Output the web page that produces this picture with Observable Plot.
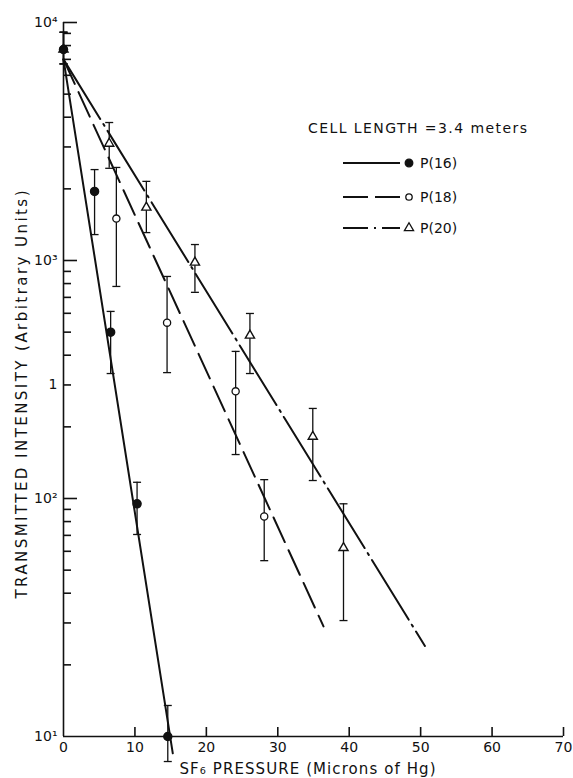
<!DOCTYPE html>
<html><head><meta charset="utf-8">
<script src="https://cdn.jsdelivr.net/npm/d3@7"></script>
<script src="https://cdn.jsdelivr.net/npm/@observablehq/plot@0.6"></script>
<style>body{margin:0;background:#fff} #chart{width:573px;height:778px}</style>
</head><body><div id="chart"></div>
<script>
// ---- data ----
const xTicks = [0, 10, 20, 30, 40, 50, 60, 70];
const yMajor = [100, 1000, 10000];
const yMinor = [20, 30, 40, 50, 60, 70, 80, 90,
                200, 300, 400, 500, 600, 700, 800, 900,
                2000, 3000, 4000, 5000, 6000, 7000, 8000, 9000];
const yTickValues = [10, 100, 1000, 10000, 300];
const yTickTexts  = ["10¹", "10²", "10³", "10⁴", "1"];

const p16_x  = [0, 4.35, 6.6, 10.3, 14.6];
const p16_y  = [7700, 1950, 500, 95, 10];
const p16_lo = [6700, 1285, 335, 70.6, 7.85];
const p16_hi = [9100, 2410, 611, 117, 13.5];

const p18_x  = [0, 7.4, 14.5, 24.1, 28.1];
const p18_y  = [7700, 1500, 548, 282, 84];
const p18_lo = [6700, 778, 338, 153, 54.8];
const p18_hi = [9100, 2460, 857, 415, 120];

const p20_x  = [0, 6.4, 11.6, 18.4, 26.1, 34.9, 39.2];
const p20_y  = [7700, 3100, 1670, 981, 484, 182, 62];
const p20_lo = [6700, 2440, 1310, 735, 335, 119, 30.7];
const p20_hi = [9100, 3800, 2150, 1167, 599, 239, 95];

// fitted lines (end points)
const fit16_x = [0, 15.3],  fit16_y = [7000, 8.5];
const fit18_x = [0, 36.4],  fit18_y = [7000, 29];
const fit20_x = [0, 50.6],  fit20_y = [7000, 24];

const seriesNames = ["P(16)", "P(18)", "P(20)"];
const headerText = "CELL LENGTH =3.4 meters";
const xLabel = "SF₆ PRESSURE (Microns of Hg)";
const yLabel = "TRANSMITTED INTENSITY (Arbitrary Units)";

// ---- build tables ----
const pts = (xs, ys, lo, hi, s) => xs.map((x, i) => ({s, x, y: ys[i], lo: lo[i], hi: hi[i]}));
const d16 = pts(p16_x, p16_y, p16_lo, p16_hi, seriesNames[0]);
const d18 = pts(p18_x, p18_y, p18_lo, p18_hi, seriesNames[1]);
const d20 = pts(p20_x, p20_y, p20_lo, p20_hi, seriesNames[2]);
const all = [...d20, ...d18, ...d16];
const ln = (xs, ys) => xs.map((x, i) => ({x, y: ys[i]}));

const W = 573, H = 778, mL = 63, mR = 10, mT = 22, mB = 42;
const plotW = W - mL - mR, plotH = H - mT - mB;
const font = "'DejaVu Sans', sans-serif";
const ink = "#111";

const cap = {draw(ctx, size) { const h = Math.sqrt(size / Math.PI); ctx.moveTo(-h, 0); ctx.lineTo(h, 0); }};

const chart = Plot.plot({
  width: W, height: H,
  marginLeft: mL, marginRight: mR, marginTop: mT, marginBottom: mB,
  x: {domain: [0, 70], axis: null},
  y: {type: "log", domain: [10, 10000], axis: null},
  style: {fontFamily: font, background: "white", color: ink},
  marks: [
    Plot.ruleX([0], {y1: 10, y2: 10000, stroke: ink, strokeWidth: 1.6}),
    Plot.ruleY([10], {x1: 0, x2: 70, stroke: ink, strokeWidth: 1.6}),
    Plot.tickY(yMajor, {y: d => d, insetRight: plotW - 14, stroke: ink, strokeWidth: 1.6}),
    Plot.tickY(yMinor, {y: d => d, insetRight: plotW - 8, stroke: ink, strokeWidth: 1.6}),
    Plot.tickX(xTicks.filter(v => v > 0), {x: d => d, insetTop: plotH - 9, stroke: ink, strokeWidth: 1.6}),
    Plot.text(yTickValues, {y: d => d, text: (d, i) => yTickTexts[i], frameAnchor: "left", textAnchor: "end", dx: -6, fontSize: 14, fill: ink}),
    Plot.text(xTicks, {x: d => d, text: d => String(d), frameAnchor: "bottom", dy: 11, fontSize: 14, lineAnchor: "middle", fill: ink}),
    Plot.text([xLabel], {frameAnchor: "bottom", textAnchor: "middle", dx: -6, dy: 33, fontSize: 15, lineAnchor: "middle", fill: ink}),
    Plot.text([yLabel], {frameAnchor: "left", textAnchor: "middle", rotate: -90, dx: -41, dy: 15, fontSize: 15, lineAnchor: "middle", fill: ink}),
    // fitted lines
    Plot.line(ln(fit16_x, fit16_y), {x: "x", y: "y", stroke: ink, strokeWidth: 2}),
    Plot.line(ln(fit18_x, fit18_y), {x: "x", y: "y", stroke: ink, strokeWidth: 2, strokeDasharray: "27,9"}),
    Plot.line(ln(fit20_x, fit20_y), {x: "x", y: "y", stroke: ink, strokeWidth: 2, strokeDasharray: "70,6,2,6"}),
    // error bars
    Plot.ruleX(all, {x: "x", y1: "lo", y2: "hi", stroke: ink, strokeWidth: 1.3}),
    Plot.dot(all, {x: "x", y: "lo", symbol: cap, r: 4, stroke: ink, strokeWidth: 1.3}),
    Plot.dot(all, {x: "x", y: "hi", symbol: cap, r: 4, stroke: ink, strokeWidth: 1.3}),
    // points
    Plot.dot(d20, {x: "x", y: "y", symbol: "triangle", r: 3.4, fill: "white", stroke: ink, strokeWidth: 1.4}),
    Plot.dot(d18, {x: "x", y: "y", symbol: "circle", r: 3.6, fill: "white", stroke: ink, strokeWidth: 1.3}),
    Plot.dot(d16, {x: "x", y: "y", symbol: "circle", r: 4, fill: ink, stroke: ink})
  ]
});

// stretch the long labels to the reference's lettering width
const svg = d3.select(chart);
svg.selectAll("text").each(function () {
  const t = this.textContent;
  if (t === yLabel) d3.select(this).attr("textLength", 408).attr("lengthAdjust", "spacing");
  if (t === xLabel) d3.select(this).attr("textLength", 256).attr("lengthAdjust", "spacing");
});

// ---- legend ----
const lg = svg.append("g").attr("font-family", font).attr("fill", ink).attr("text-anchor", "start");
lg.append("text").attr("x", 308).attr("y", 128).attr("dy", "0.35em")
  .attr("font-size", 14).attr("textLength", 219).attr("lengthAdjust", "spacing").text(headerText);
const legendDash = [null, "25,7", "25,6,2,6"];
const legendSym = [d3.symbolCircle, d3.symbolCircle, d3.symbolTriangle];
const legendY = [163, 197, 228];
seriesNames.forEach((name, i) => {
  const y = legendY[i];
  lg.append("line").attr("x1", 343).attr("x2", 400).attr("y1", y).attr("y2", y)
    .attr("stroke", ink).attr("stroke-width", 2).attr("stroke-dasharray", legendDash[i]);
  const r = i === 2 ? 3.4 : (i === 0 ? 3.8 : 3.2);
  lg.append("path").attr("transform", `translate(409,${y})`)
    .attr("d", d3.symbol(legendSym[i], Math.PI * r * r)())
    .attr("fill", i === 0 ? ink : "white").attr("stroke", ink).attr("stroke-width", 1.3);
  lg.append("text").attr("x", 420).attr("y", y).attr("dy", "0.35em").attr("font-size", 14).text(name);
});

document.getElementById("chart").appendChild(chart);
</script>
</body></html>
